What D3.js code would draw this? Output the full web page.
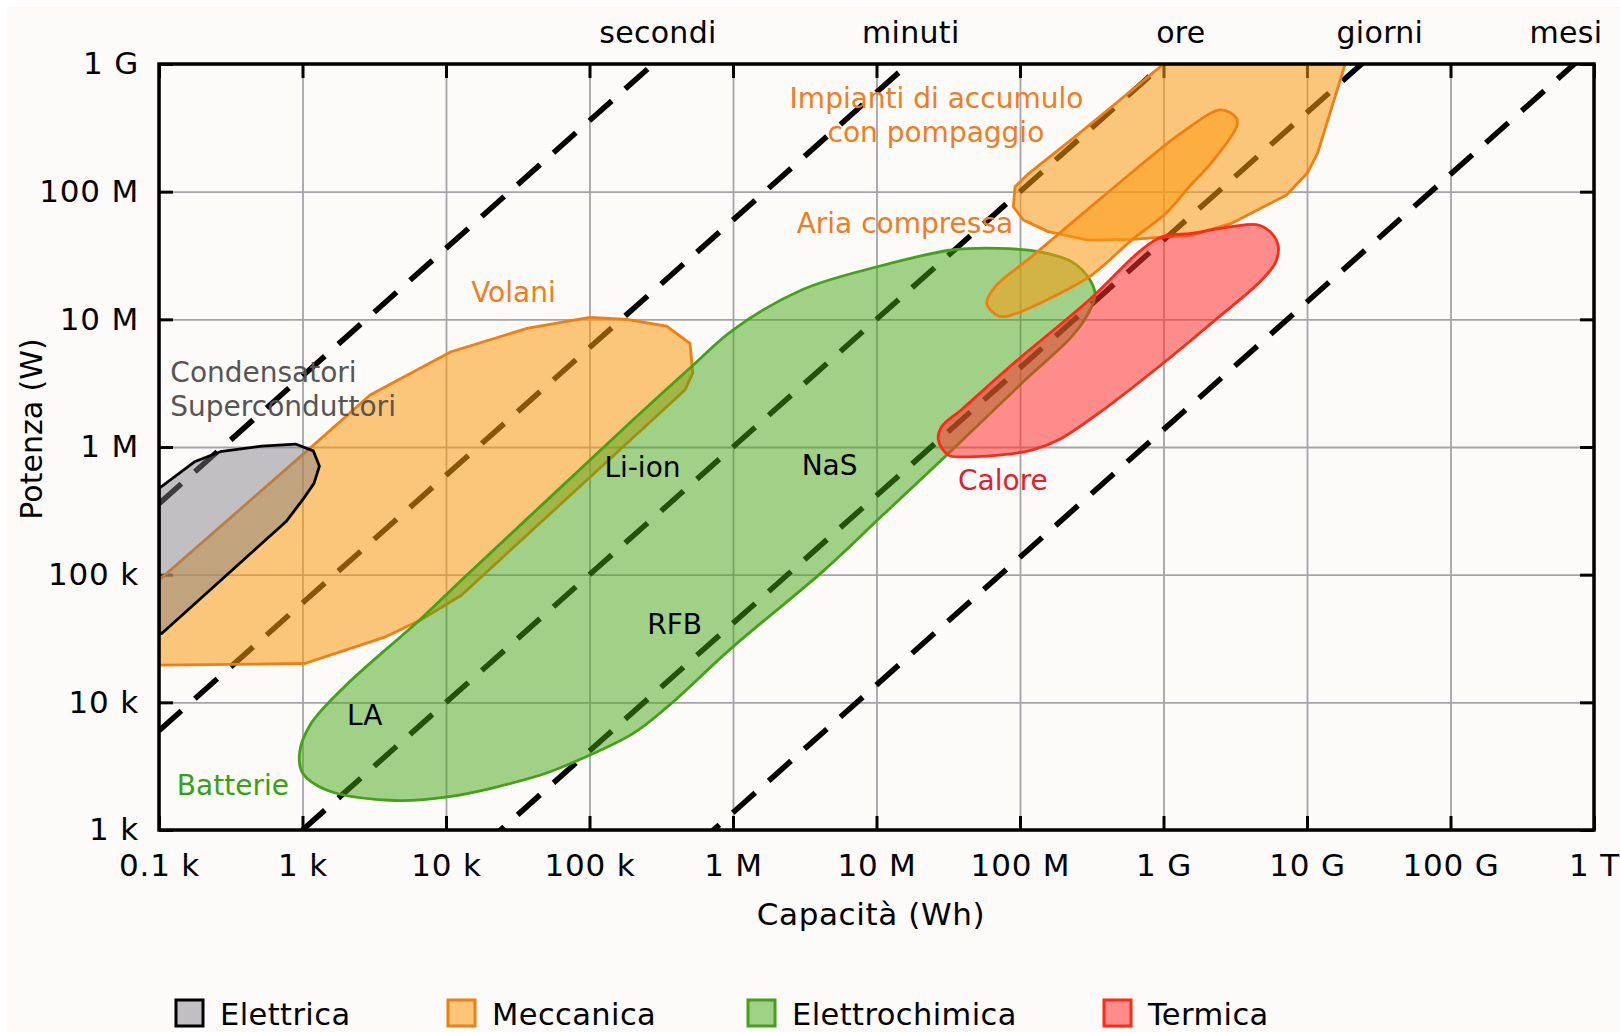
<!DOCTYPE html>
<html><head><meta charset="utf-8">
<script src="https://cdn.jsdelivr.net/npm/d3@7"></script>
<style>
html,body{margin:0;padding:0;background:#ffffff;}
svg{display:block;font-family:"DejaVu Sans",Verdana,sans-serif;}
</style></head><body>
<svg id="chart" width="1620" height="1032"></svg>
<script>
// ---------- DATA ----------
const xTickValues = [1e2,1e3,1e4,1e5,1e6,1e7,1e8,1e9,1e10,1e11,1e12];
const xTickLabels = ["0.1 k","1 k","10 k","100 k","1 M","10 M","100 M","1 G","10 G","100 G","1 T"];
const yTickValues = [1e3,1e4,1e5,1e6,1e7,1e8,1e9];
const yTickLabels = ["1 k","10 k","100 k","1 M","10 M","100 M","1 G"];

// discharge durations (hours) of the dashed lines P = E / t
const durationNames = ["secondi","minuti","ore","giorni","mesi"];
const durationHours = [1/3600, 1/60, 1, 24, 730];
const durationLabelLogE = [5.477, 7.239, 9.121, 10.508, 11.804];

const categories = ["Elettrica","Meccanica","Elettrochimica","Termica"];
const categoryFill = ["#807e84","#fb9b11","#46a514","#ff322d"];
const categoryFillOpacity = [0.47,0.55,0.5,0.55];
const categoryStroke = ["#000000","#f07f12","#45a01a","#ff2a15"];

// region outlines: [log10 capacity (Wh), log10 power (W)]
const elettricaCondensatori = [[2.0,5.675],[2.247,5.884],[2.427,5.963],[2.715,6.007],[2.951,6.023],[3.075,5.970],[3.118,5.850],[3.080,5.715],[3.003,5.589],[2.884,5.414],[2.019,4.539],[2.0,4.55]];
const meccanicaVolani = [[2.0,4.957],[3.051,5.989],[3.471,6.407],[4.035,6.746],[4.564,6.929],[5.003,7.016],[5.258,7.0],[5.537,6.947],[5.70,6.812],[5.72,6.58],[5.665,6.446],[4.107,4.839],[3.82,4.643],[3.579,4.513],[3.015,4.304],[2.0,4.291]];
const elettrochimicaBatterie = [[3.003,3.442],[2.979,3.599],[3.052,3.821],[3.291,4.121],[3.82,4.649],[4.107,4.957],[4.654,5.531],[5.302,6.211],[5.71,6.629],[5.999,6.916],[6.478,7.23],[7.006,7.412],[7.524,7.543],[7.849,7.556],[8.128,7.530],[8.36,7.451],[8.488,7.308],[8.523,7.19],[8.476,7.046],[8.36,6.864],[8.035,6.524],[7.501,5.949],[7.031,5.453],[6.622,5.022],[5.999,4.434],[5.542,3.964],[5.302,3.755],[4.894,3.533],[4.654,3.429],[4.011,3.259],[3.603,3.233],[3.171,3.311]];
const meccanicaPompaggio = [[9.0,9.0],[10.266,9.0],[10.073,8.30],[10.001,8.144],[9.857,7.974],[9.475,7.752],[9.196,7.66],[8.778,7.626],[8.476,7.621],[8.197,7.687],[8.023,7.778],[7.954,7.882],[7.965,8.039],[8.062,8.144],[8.417,8.46],[8.825,8.836]];
const meccanicaAria = [[7.849,7.026],[7.768,7.125],[7.826,7.255],[8.081,7.491],[8.45,7.84],[8.80,8.17],[9.137,8.47],[9.401,8.640],[9.509,8.575],[9.509,8.509],[9.33,8.222],[9.196,8.06],[9.017,7.831],[8.778,7.621],[8.499,7.347],[8.2,7.16],[7.919,7.026]];
const termicaCalore = [[7.501,5.936],[7.431,6.054],[7.454,6.158],[7.60,6.30],[7.95,6.65],[8.45,7.12],[8.964,7.634],[9.196,7.673],[9.475,7.726],[9.661,7.739],[9.754,7.673],[9.80,7.569],[9.777,7.438],[9.661,7.282],[9.359,6.994],[9.010,6.668],[8.546,6.263],[8.267,6.054],[8.081,5.975],[7.849,5.936],[7.617,5.923]];

// annotations
const annotationTexts = ["Impianti di accumulo","con pompaggio","Aria compressa","Volani","Condensatori","Superconduttori","Li-ion","NaS","RFB","LA","Batterie","Calore"];
const annotationLogE = [7.418,7.414,7.198,4.47,2.079,2.079,5.369,6.673,5.593,3.433,2.515,7.881];
const annotationLogP = [8.734,8.468,7.755,7.214,6.587,6.321,5.843,5.858,4.612,3.899,3.35,5.745];
const annotationColors = ["#f07d1e","#f07d1e","#f07d1e","#f07d1e","#555555","#555555","#000","#000","#000","#000","#38a014","#e31e2d"];
const annotationAnchors = ["middle","middle","middle","middle","start","start","middle","middle","middle","middle","middle","middle"];

// ---------- CHART ----------
const W = 1620, H = 1032;
const plotLeft = 159, plotRight = 1594, plotTop = 64, plotBottom = 830;
const svg = d3.select("#chart");
svg.append("rect").attr("x",7).attr("y",7).attr("width",W-7).attr("height",H-7).attr("fill","#fdfafa");

const x = d3.scaleLog().domain([1e2,1e12]).range([plotLeft,plotRight]);
const y = d3.scaleLog().domain([1e3,1e9]).range([plotBottom,plotTop]);
const pw = plotRight-plotLeft, ph = plotBottom-plotTop;

svg.append("clipPath").attr("id","plotclip").append("rect")
  .attr("x",plotLeft).attr("y",plotTop).attr("width",pw).attr("height",ph);

// grid
svg.append("g").attr("transform",`translate(0,${plotBottom})`)
  .call(d3.axisBottom(x).tickValues(xTickValues).tickSize(-ph).tickFormat(""))
  .call(g=>g.select(".domain").remove())
  .selectAll("line").attr("stroke","#a4a4a8").attr("stroke-width",1.8);
svg.append("g").attr("transform",`translate(${plotLeft},0)`)
  .call(d3.axisLeft(y).tickValues(yTickValues).tickSize(-pw).tickFormat(""))
  .call(g=>g.select(".domain").remove())
  .selectAll("line").attr("stroke","#a4a4a8").attr("stroke-width",1.8);

// inward ticks
function styleAxis(g){ g.select(".domain").remove(); g.selectAll("line").attr("stroke","#000").attr("stroke-width",3); g.selectAll("text").attr("fill","#000").attr("font-size",31).attr("letter-spacing","0.8px").attr("font-family","DejaVu Sans, Verdana, sans-serif"); }
svg.append("g").attr("transform",`translate(0,${plotBottom})`)
  .call(d3.axisBottom(x).tickValues(xTickValues).tickSizeInner(-14).tickSizeOuter(0).tickPadding(24).tickFormat((d,i)=>xTickLabels[i]))
  .call(styleAxis);
svg.append("g").attr("transform",`translate(${plotLeft},0)`)
  .call(d3.axisLeft(y).tickValues(yTickValues).tickSizeInner(-14).tickSizeOuter(0).tickPadding(20).tickFormat((d,i)=>yTickLabels[i]))
  .call(styleAxis);
svg.append("g").attr("transform",`translate(0,${plotTop})`)
  .call(d3.axisTop(x).tickValues(xTickValues).tickSizeInner(-14).tickSizeOuter(0).tickFormat(""))
  .call(styleAxis);
svg.append("g").attr("transform",`translate(${plotRight},0)`)
  .call(d3.axisRight(y).tickValues(yTickValues).tickSizeInner(-14).tickSizeOuter(0).tickFormat(""))
  .call(styleAxis);

// dashed duration lines
const plot = svg.append("g").attr("clip-path","url(#plotclip)");
const eRange = [1e2,1e12];
const diag = d3.line().x(d=>x(d[0])).y(d=>y(d[1]));
durationHours.forEach((t,i)=>{
  const pts = eRange.map(e=>[e, e/t]);
  plot.append("path").attr("d",diag(pts)).attr("fill","none")
    .attr("stroke","#000").attr("stroke-width",5.5).attr("stroke-dasharray","30,18");
});

// regions
const regions = [
  {pts: meccanicaVolani, cat:1, smooth:false},
  {pts: elettricaCondensatori, cat:0, smooth:false},
  {pts: elettrochimicaBatterie, cat:2, smooth:true},
  {pts: meccanicaPompaggio, cat:1, smooth:false},
  {pts: meccanicaAria, cat:1, smooth:true},
  {pts: termicaCalore, cat:3, smooth:true}
];
regions.forEach(r=>{
  const gen = d3.line().x(d=>x(Math.pow(10,d[0]))).y(d=>y(Math.pow(10,d[1])))
    .curve(r.smooth ? d3.curveCatmullRomClosed.alpha(0.5) : d3.curveLinearClosed);
  plot.append("path").attr("d",gen(r.pts))
    .attr("fill",categoryFill[r.cat]).attr("fill-opacity",categoryFillOpacity[r.cat])
    .attr("stroke",categoryStroke[r.cat]).attr("stroke-width",2.8).attr("stroke-linejoin","round");
});

// frame
svg.append("rect").attr("x",plotLeft).attr("y",plotTop).attr("width",pw).attr("height",ph)
  .attr("fill","none").attr("stroke","#000").attr("stroke-width",3.5);

// duration labels
durationNames.forEach((n,i)=>{
  svg.append("text").attr("x",x(Math.pow(10,durationLabelLogE[i]))).attr("y",43)
    .attr("text-anchor","middle").attr("font-size",30).attr("letter-spacing","0.3px").attr("fill","#000").text(n);
});

// annotations
annotationTexts.forEach((t,i)=>{
  svg.append("text").attr("x",x(Math.pow(10,annotationLogE[i]))).attr("y",y(Math.pow(10,annotationLogP[i])))
    .attr("dy","0.36em").attr("text-anchor",annotationAnchors[i]).attr("font-size",28)
    .attr("fill",annotationColors[i]).text(t);
});

// axis titles
svg.append("text").attr("x",871).attr("y",914).attr("dy","0.36em").attr("text-anchor","middle")
  .attr("font-size",31).attr("letter-spacing","0.6px").attr("fill","#000").text("Capacità (Wh)");
svg.append("text").attr("transform","translate(31,429) rotate(-90)").attr("dy","0.36em").attr("text-anchor","middle")
  .attr("font-size",30).attr("fill","#000").text("Potenza (W)");

// legend
const legendBoxX = [176,448,748,1104];
const legend = svg.append("g");
categories.forEach((c,i)=>{
  legend.append("rect").attr("x",legendBoxX[i]).attr("y",1000).attr("width",27).attr("height",26)
    .attr("fill",categoryFill[i]).attr("fill-opacity",categoryFillOpacity[i])
    .attr("stroke",categoryStroke[i]).attr("stroke-width",3);
  legend.append("text").attr("x",legendBoxX[i]+44).attr("y",1025).attr("font-size",30.5).attr("letter-spacing","0.4px").attr("fill","#000").text(c);
});
</script>
</body></html>
